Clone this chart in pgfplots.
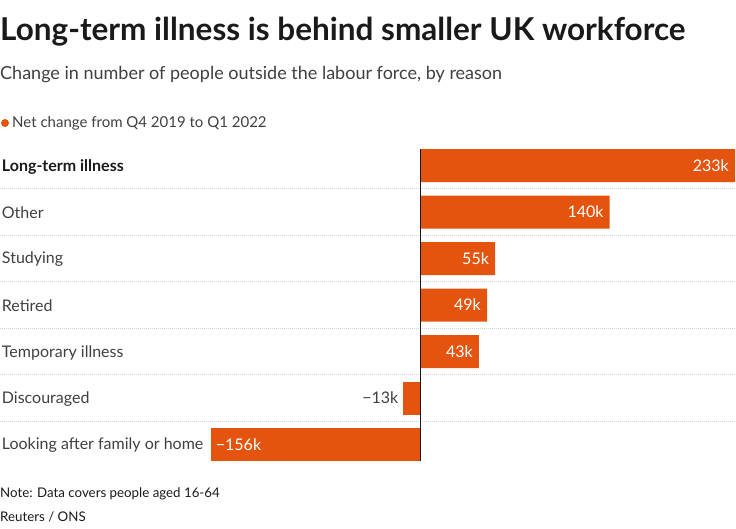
\documentclass[border=0pt]{standalone}
\usepackage{pgfplots}
\pgfplotsset{compat=1.18}
\usepackage{fontspec}
\setmainfont{Lato}
\definecolor{bar}{HTML}{E5540F}
\definecolor{txt}{HTML}{404040}
\definecolor{ttl}{HTML}{1A1A1A}
\begin{document}
\begin{tikzpicture}[x=1pt,y=1pt]
\useasboundingbox (0,0) rectangle (736,-529);
\node[anchor=west,inner sep=0pt,text=ttl,font=\fontsize{31.5}{34}\selectfont\bfseries] at (0,-32) {Long-term illness is behind smaller UK workforce};
\node[anchor=west,inner sep=0pt,text=txt,font=\fontsize{18}{20}\selectfont] at (0,-75) {Change in number of people outside the labour force, by reason};
\fill[bar] (5,-123) circle (4);
\node[anchor=west,inner sep=0pt,text=txt,font=\fontsize{15}{18}\selectfont] at (12,-123.5) {Net change from Q4 2019 to Q1 2022};
\node[anchor=west,inner sep=0pt,text=ttl,font=\fontsize{13.3}{16}\selectfont] at (0,-494) {Note: Data covers people aged 16-64};
\node[anchor=west,inner sep=0pt,text=ttl,font=\fontsize{13.3}{16}\selectfont] at (0,-517) {Reuters / ONS};
\begin{axis}[
  at={(0pt,-467.75pt)}, anchor=south west,
  scale only axis, width=736pt, height=325.5pt,
  xmin=-312.3, xmax=233.7, ymin=-0.5, ymax=6.5, y dir=reverse,
  axis line style={draw=none}, tick style={draw=none},
  xtick=\empty,
  ytick={0,...,6},
  yticklabels={\textcolor{ttl}{\textbf{Long-term illness}},Other,Studying,Retired,Temporary illness,Discouraged,Looking after family or home},
  yticklabel style={anchor=west, inner sep=0pt, xshift=6pt, yshift=-1pt, text=txt, font=\fontsize{16}{18}\selectfont},
  extra y ticks={0.5,1.5,2.5,3.5,4.5,5.5},
  extra y tick labels={},
  extra y tick style={grid=major, major grid style={dash pattern=on 0.8pt off 1.2pt, gray!35, line width=0.6pt}},
  xbar, bar width=33pt, bar shift=0pt,
  clip=false,
  point meta=explicit symbolic,
  nodes near coords,
  every node near coord/.append style={font=\fontsize{16}{18}\selectfont, inner sep=0pt},
]
\addplot[fill=bar, draw=none, nodes near coords style={anchor=east, xshift=-6pt, text=white}] coordinates {(233,0) [233k] (140,1) [140k] (55,2) [55k] (49,3) [49k] (43,4) [43k]};
\addplot[fill=bar, draw=none, nodes near coords style={anchor=east, xshift=-5pt, text=txt}] coordinates {(-13,5) [−13k]};
\addplot[fill=bar, draw=none, nodes near coords style={anchor=west, xshift=5pt, text=white}] coordinates {(-156,6) [−156k]};
\addplot[sharp plot, draw=ttl, line width=1pt, mark=none, nodes near coords=\empty] coordinates {(0,-0.36) (0,6.36)};
\end{axis}
\end{tikzpicture}
\end{document}
